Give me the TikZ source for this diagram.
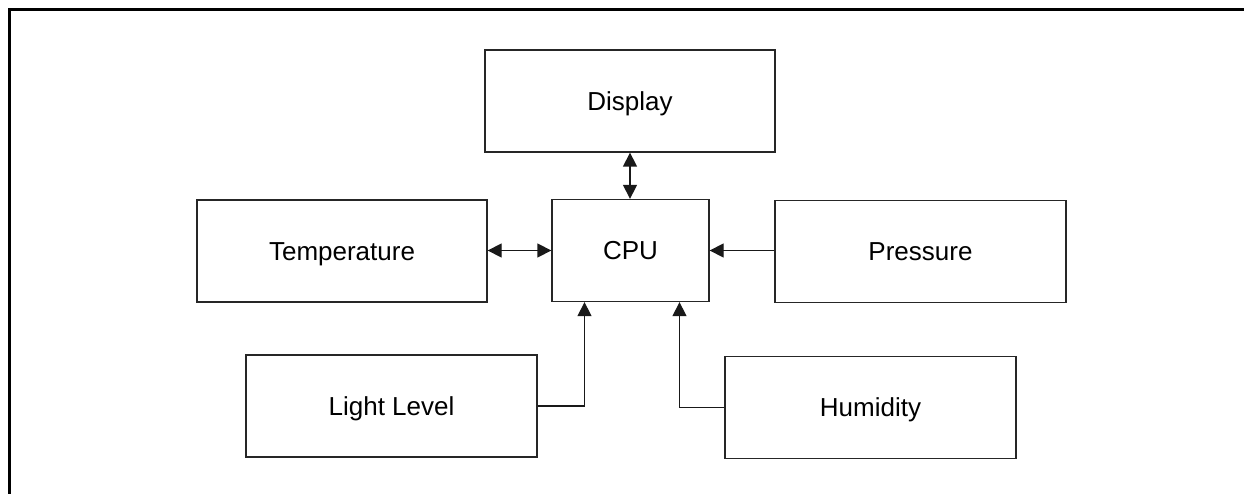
\documentclass[tikz,border=0pt]{standalone}
\usepackage{fontspec}
\setmainfont{Liberation Sans}
\usetikzlibrary{arrows.meta}
\begin{document}
\begin{tikzpicture}[x=1pt,y=1pt,
  blk/.style={draw=black!85, line width=1.3pt, fill=white, inner sep=0pt,
    minimum width=290pt, minimum height=102pt,
    font=\fontsize{26}{30}\selectfont, text height=18.6pt, text depth=0pt},
  conn/.style={line width=1.3pt, draw=black!90},
  tip/.style={-{Triangle[length=14pt,width=14pt]}},
  tips/.style={{Triangle[length=14pt,width=14pt]}-{Triangle[length=14pt,width=14pt]}}]
\useasboundingbox (0,0) rectangle (1244,-494);
\draw[line width=3pt] (9.5,-500) -- (9.5,-10) -- (1250,-10);
\node[blk] (display) at (630,-101) {Display};
\node[blk, minimum width=157pt] (cpu) at (630.5,-250.5) {CPU};
\node[blk] (temp) at (342,-251) {Temperature};
\node[blk, minimum width=291pt] (press) at (920.5,-251.5) {Pressure};
\node[blk, minimum width=291pt] (light) at (391.5,-406) {Light Level};
\node[blk, minimum width=291pt] (humid) at (870.5,-407.5) {Humidity};
\draw[conn,tips] (display.south) -- (display.south |- cpu.north);
\draw[conn,tips] (temp.east |- cpu.west) -- (cpu.west);
\draw[conn,tip] (press.west |- cpu.east) -- (cpu.east);
\coordinate (cl) at ([xshift=-46pt]cpu.south);
\coordinate (cr) at ([xshift=49pt]cpu.south);
\draw[conn,tip] (light.east) -| (cl);
\draw[conn,tip] (humid.west) -| (cr);
\end{tikzpicture}
\end{document}
